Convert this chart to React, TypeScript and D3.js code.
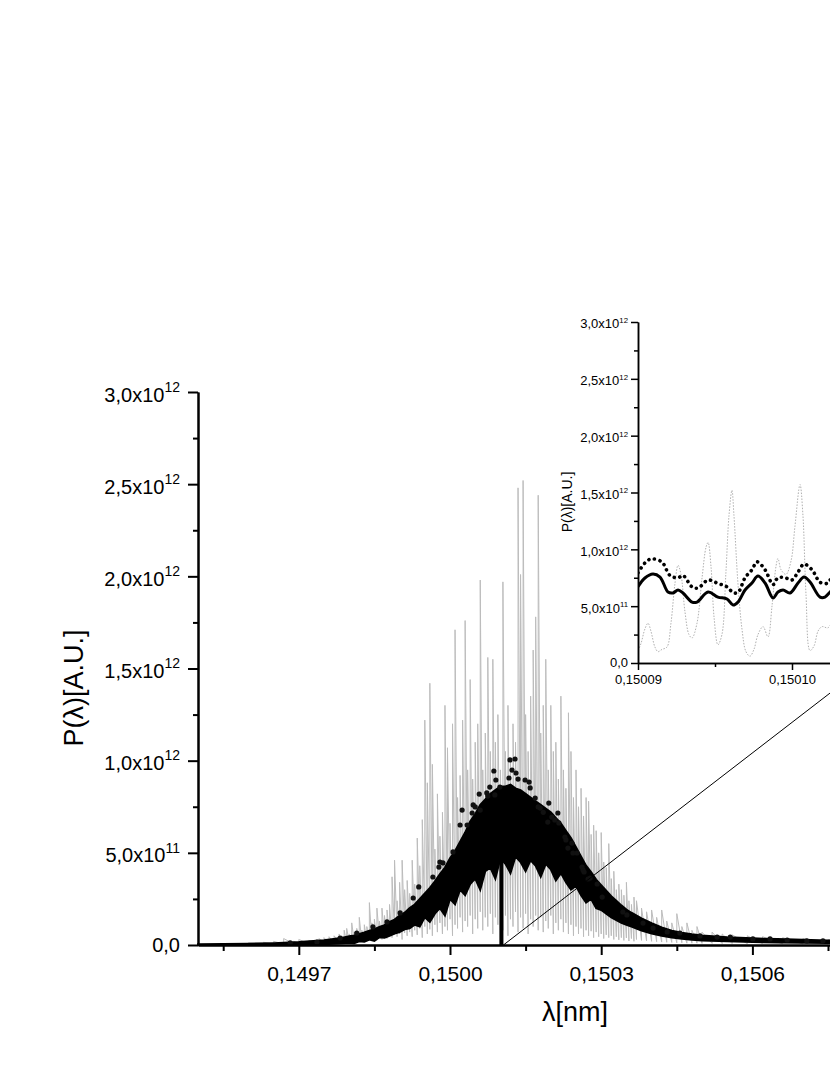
import React, { useEffect, useRef } from "react";
import * as d3 from "d3";

const UNIT = 1e12; // power values below are in units of 10^12

// ---- main chart axes ----
const yTickValues = [0, 0.5, 1, 1.5, 2, 2.5, 3];
const yTickMantissa = ["0,0", "5,0", "1,0", "1,5", "2,0", "2,5", "3,0"];
const yTickExponent = ["", "11", "12", "12", "12", "12", "12"];
const yMinorTicks = [0.25, 0.75, 1.25, 1.75, 2.25, 2.75];
const xTickValues = [0.1497, 0.15, 0.1503, 0.1506];
const xTickLabels = ["0,1497", "0,1500", "0,1503", "0,1506"];
const xMinorTicks = [0.14955, 0.14985, 0.15015, 0.15045, 0.15075];

// ---- main chart: grey spiky spectrum (each spike: trough -> peak) ----
const greyLambda = [
  0.1496, 0.14963, 0.14965, 0.14967, 0.14969, 0.1497, 0.14972, 0.14974, 0.14975, 0.14976,
  0.14977, 0.14978, 0.149785, 0.14979, 0.149795, 0.1498, 0.149805, 0.14981, 0.149815, 0.14982,
  0.149825, 0.14983, 0.149835, 0.14984, 0.149845, 0.14985, 0.149855, 0.14986, 0.149865, 0.14987,
  0.149875, 0.14988, 0.149885, 0.14989, 0.149895, 0.1499, 0.149905, 0.14991, 0.149915, 0.14992,
  0.149925, 0.14993, 0.149935, 0.14994, 0.149945, 0.14995, 0.149955, 0.14996, 0.149965, 0.14997,
  0.149975, 0.14998, 0.149985, 0.14999, 0.149995, 0.15, 0.150005, 0.15001, 0.150015, 0.15002,
  0.150025, 0.15003, 0.150035, 0.15004, 0.150045, 0.15005, 0.150055, 0.15006, 0.150065, 0.15007,
  0.150075, 0.15008, 0.150085, 0.15009, 0.150095, 0.1501, 0.150105, 0.15011, 0.150115, 0.15012,
  0.150125, 0.15013, 0.150135, 0.15014, 0.150145, 0.15015, 0.150155, 0.15016, 0.150165, 0.15017,
  0.150175, 0.15018, 0.150185, 0.15019, 0.150195, 0.1502, 0.150205, 0.15021, 0.150215, 0.15022,
  0.150225, 0.15023, 0.150235, 0.15024, 0.150245, 0.15025, 0.150255, 0.15026, 0.150265, 0.15027,
  0.150275, 0.15028, 0.150285, 0.15029, 0.150295, 0.1503, 0.150305, 0.15031, 0.150315, 0.15032,
  0.150325, 0.15033, 0.150335, 0.15034, 0.150345, 0.15035, 0.150355, 0.15036, 0.150365, 0.15037,
  0.15038, 0.15039, 0.1504, 0.15041, 0.15042, 0.15043, 0.15044, 0.15045, 0.15046, 0.15047,
  0.15048, 0.15049, 0.1505, 0.15052, 0.15054, 0.15056, 0.15059, 0.15062, 0.15066, 0.1507,
  0.15075, 0.1508,
];
const greyHigh = [
  0.012, 0.015, 0.02, 0.035, 0.02, 0.03, 0.025, 0.035, 0.04, 0.045,
  0.05, 0.06, 0.05, 0.08, 0.09, 0.06, 0.12, 0.07, 0.09, 0.15,
  0.08, 0.11, 0.1, 0.23, 0.12, 0.14, 0.2, 0.13, 0.2, 0.16,
  0.19, 0.22, 0.37, 0.46, 0.24, 0.34, 0.46, 0.3, 0.35, 0.28,
  0.46, 0.33, 0.58, 0.43, 0.68, 1.22, 0.88, 1.42, 0.98, 0.52,
  0.82, 0.59, 0.72, 1.3, 1.07, 0.66, 1.2, 1.71, 0.8, 0.92,
  1.22, 1.76, 0.95, 1.44, 0.9, 1.1, 1.2, 1.98, 0.95, 1.15,
  1.56, 1.05, 1.55, 1.1, 1.25, 0.95, 1.97, 1.05, 1.3, 1.0,
  1.2, 1.1, 2.48, 2.01, 2.52, 1.25, 1.05, 1.35, 1.6, 1.78,
  2.44, 1.15, 1.3, 1.55, 0.95, 1.3, 1.05, 1.1, 0.9, 1.35,
  0.95, 0.85, 1.26, 1.05, 0.8, 0.95, 0.75, 0.85, 0.7, 0.8,
  0.78, 0.6, 0.65, 0.62, 0.5, 0.61, 0.45, 0.42, 0.55, 0.36,
  0.4, 0.3, 0.33, 0.3, 0.27, 0.34, 0.24, 0.22, 0.26, 0.24,
  0.2, 0.18, 0.19, 0.15, 0.19, 0.13, 0.12, 0.17, 0.1, 0.12,
  0.08, 0.1, 0.07, 0.07, 0.06, 0.055, 0.05, 0.045, 0.04, 0.035,
  0.03, 0.03,
];
const greyLow = [
  0.002, 0.003, 0.004, 0.005, 0.006, 0.006, 0.008, 0.01, 0.01, 0.012,
  0.012, 0.014, 0.01, 0.016, 0.012, 0.018, 0.014, 0.02, 0.016, 0.022,
  0.018, 0.025, 0.02, 0.03, 0.022, 0.035, 0.025, 0.04, 0.03, 0.045,
  0.035, 0.05, 0.04, 0.055, 0.045, 0.06, 0.03, 0.065, 0.05, 0.07,
  0.045, 0.08, 0.055, 0.09, 0.04, 0.1, 0.06, 0.085, 0.05, 0.11,
  0.07, 0.12, 0.06, 0.1, 0.08, 0.14, 0.05, 0.11, 0.09, 0.15,
  0.07, 0.13, 0.1, 0.16, 0.06, 0.14, 0.09, 0.18, 0.08, 0.15,
  0.1, 0.17, 0.06, 0.15, 0.11, 0.19, 0.08, 0.16, 0.05, 0.14,
  0.1, 0.18, 0.07, 0.15, 0.09, 0.17, 0.06, 0.14, 0.1, 0.16,
  0.08, 0.15, 0.07, 0.13, 0.09, 0.16, 0.06, 0.12, 0.08, 0.14,
  0.07, 0.12, 0.06, 0.11, 0.05, 0.1, 0.06, 0.09, 0.045, 0.08,
  0.05, 0.075, 0.04, 0.07, 0.045, 0.06, 0.035, 0.055, 0.04, 0.05,
  0.03, 0.045, 0.028, 0.04, 0.025, 0.038, 0.022, 0.035, 0.02, 0.03,
  0.025, 0.022, 0.02, 0.018, 0.016, 0.015, 0.014, 0.012, 0.012, 0.01,
  0.01, 0.01, 0.009, 0.009, 0.008, 0.008, 0.007, 0.007, 0.006, 0.006,
  0.006, 0.005,
];

// ---- main chart: black band (envelope of the dense black trace) ----
const bandLambda = [
  0.1495, 0.14955, 0.1496, 0.14965, 0.1497, 0.14975, 0.14978, 0.1498, 0.14981, 0.14982,
  0.14983, 0.14984, 0.14985, 0.14986, 0.14987, 0.14988, 0.14989, 0.1499, 0.14991, 0.14992,
  0.14993, 0.14994, 0.14995, 0.14996, 0.14997, 0.14998, 0.14999, 0.15, 0.15001, 0.15002,
  0.15003, 0.15004, 0.15005, 0.15006, 0.15007, 0.15008, 0.15009, 0.1501, 0.15011, 0.15012,
  0.15013, 0.15014, 0.15015, 0.15016, 0.15017, 0.15018, 0.15019, 0.1502, 0.15021, 0.15022,
  0.15023, 0.15024, 0.15025, 0.15026, 0.15027, 0.15028, 0.15029, 0.1503, 0.15031, 0.15032,
  0.15033, 0.15034, 0.15035, 0.15036, 0.15038, 0.1504, 0.15042, 0.15044, 0.15046, 0.15048,
  0.1505, 0.15055, 0.1506, 0.15065, 0.1507, 0.15075, 0.1508,
];
const bandUpper = [
  0.004, 0.005, 0.007, 0.01, 0.016, 0.026, 0.036, 0.048, 0.052, 0.06,
  0.068, 0.078, 0.086, 0.098, 0.108, 0.125, 0.138, 0.16, 0.175, 0.2,
  0.22, 0.25, 0.28, 0.31, 0.345, 0.385, 0.42, 0.47, 0.51, 0.56,
  0.61, 0.67, 0.71, 0.76, 0.79, 0.82, 0.84, 0.86, 0.86, 0.87,
  0.85, 0.84, 0.82, 0.8, 0.78, 0.76, 0.74, 0.72, 0.69, 0.66,
  0.62, 0.58, 0.53, 0.48, 0.43, 0.395, 0.355, 0.325, 0.295, 0.265,
  0.24, 0.215, 0.192, 0.175, 0.145, 0.118, 0.095, 0.078, 0.066, 0.058,
  0.052, 0.042, 0.036, 0.032, 0.028, 0.025, 0.024,
];
const bandLower = [
  0, 0, 0.001, 0.001, 0.002, 0.004, 0.008, 0.012, 0.01, 0.02,
  0.018, 0.03, 0.022, 0.042, 0.04, 0.05, 0.062, 0.07, 0.085, 0.09,
  0.11, 0.1, 0.15, 0.125, 0.17, 0.2, 0.16, 0.25, 0.22, 0.3,
  0.27, 0.33, 0.36, 0.3, 0.4, 0.42, 0.36, 0.47, 0.44, 0.39,
  0.48, 0.45, 0.4, 0.46, 0.43, 0.37, 0.44, 0.41, 0.35, 0.39,
  0.34, 0.3, 0.32, 0.27, 0.23, 0.25, 0.2, 0.19, 0.17, 0.15,
  0.135, 0.12, 0.11, 0.1, 0.078, 0.062, 0.05, 0.04, 0.034, 0.028,
  0.024, 0.02, 0.016, 0.014, 0.012, 0.011, 0.01,
];

// ---- main chart: black dots ----
const dotLambda = [
  0.149683, 0.149736, 0.149782, 0.149815, 0.149847, 0.149875, 0.149901, 0.149927, 0.149938, 0.149966,
  0.149978, 0.14998, 0.149986, 0.150006, 0.15002, 0.150024, 0.150034, 0.150044, 0.150046, 0.15005,
  0.150058, 0.15006, 0.150073, 0.150075, 0.150079, 0.150087, 0.150089, 0.150091, 0.150099, 0.150117,
  0.150119, 0.150123, 0.150129, 0.150131, 0.150135, 0.150149, 0.150157, 0.150159, 0.150169, 0.150175,
  0.150179, 0.150185, 0.150194, 0.150196, 0.150202, 0.150208, 0.150214, 0.150216, 0.150228, 0.15023,
  0.150234, 0.150242, 0.150244, 0.150252, 0.150262, 0.150264, 0.150266, 0.150274, 0.150278, 0.150292,
  0.150302, 0.150343, 0.150351, 0.150383, 0.150403, 0.150431, 0.150456, 0.150496, 0.15053, 0.150556,
  0.150601, 0.150635, 0.150669, 0.150708, 0.15074,
];
const dotPower = [
  0.011, 0.016, 0.038, 0.065, 0.098, 0.125, 0.174, 0.255, 0.315, 0.369,
  0.423, 0.45, 0.445, 0.505, 0.651, 0.732, 0.651, 0.716, 0.76, 0.749,
  0.819, 0.732, 0.825, 0.808, 0.857, 0.944, 0.814, 0.895, 0.857, 0.906,
  1.004, 0.949, 1.009, 0.933, 0.9, 0.895, 0.884, 0.852, 0.797, 0.749,
  0.743, 0.72, 0.667, 0.77, 0.694, 0.678, 0.716, 0.662, 0.586, 0.57,
  0.526, 0.553, 0.499, 0.499, 0.423, 0.407, 0.396, 0.358, 0.363, 0.331,
  0.26, 0.179, 0.163, 0.119, 0.092, 0.071, 0.065, 0.049, 0.043, 0.043,
  0.033, 0.033, 0.027, 0.022, 0.022,
];

// zoomed region marker and inset
const zoomLambda = [0.150098, 0.150106];
const zoomTop = 0.55;
const insetXTicks = [0.15009, 0.1501];
const insetXLabels = ["0,15009", "0,15010"];
const insetXMinor = [0.150095, 0.150105];

// ---- inset: solid black line ----
const insetSolidLambda = [
  0.15009, 0.15009045, 0.15009097, 0.15009143, 0.15009195, 0.15009227, 0.1500926, 0.15009292, 0.15009351, 0.15009383,
  0.15009455, 0.15009519, 0.15009578, 0.15009617, 0.15009649, 0.15009695, 0.1500974, 0.15009779, 0.15009825, 0.15009877,
  0.15009909, 0.15009942, 0.15009987, 0.15010039, 0.15010078, 0.15010117, 0.15010182, 0.15010214, 0.15010247, 0.15010312,
  0.1501041,
];
const insetSolidPower = [
  0.671, 0.748, 0.783, 0.756, 0.624, 0.616, 0.642, 0.616, 0.536, 0.536,
  0.624, 0.58, 0.563, 0.51, 0.536, 0.642, 0.704, 0.765, 0.704, 0.572,
  0.624, 0.642, 0.616, 0.704, 0.756, 0.712, 0.58, 0.58, 0.624, 0.7,
  0.72,
];

// ---- inset: black dotted line ----
const insetDotLambda = [
  0.15009, 0.15009045, 0.15009084, 0.15009154, 0.15009208, 0.1500926, 0.15009292, 0.15009351, 0.1500939, 0.15009455,
  0.15009519, 0.15009578, 0.15009617, 0.15009649, 0.15009695, 0.1500974, 0.15009773, 0.15009825, 0.15009877, 0.15009909,
  0.15009955, 0.1501, 0.15010039, 0.15010078, 0.1501013, 0.15010182, 0.15010227, 0.15010247, 0.1501031,
];
const insetDotPower = [
  0.794, 0.88, 0.915, 0.89, 0.77, 0.75, 0.77, 0.67, 0.66, 0.73,
  0.7, 0.67, 0.62, 0.62, 0.75, 0.82, 0.89, 0.82, 0.69, 0.75,
  0.75, 0.73, 0.8, 0.87, 0.82, 0.71, 0.7, 0.73, 0.8,
];

// ---- inset: grey dotted line ----
const insetGreyLambda = [
  0.15009, 0.15009019, 0.15009045, 0.15009065, 0.15009084, 0.1500911, 0.1500913, 0.15009156, 0.15009188, 0.15009214,
  0.1500924, 0.1500926, 0.15009279, 0.15009305, 0.15009331, 0.15009351, 0.15009383, 0.15009416, 0.15009442, 0.15009455,
  0.15009474, 0.15009494, 0.15009519, 0.15009545, 0.15009571, 0.15009591, 0.1500961, 0.15009623, 0.15009649, 0.15009675,
  0.15009701, 0.15009727, 0.15009753, 0.15009779, 0.15009812, 0.15009844, 0.1500987, 0.15009896, 0.15009909, 0.15009929,
  0.15009961, 0.15009994, 0.15010019, 0.15010052, 0.15010071, 0.15010091, 0.15010117, 0.15010143, 0.15010169, 0.15010195,
  0.15010234, 0.15010273,
];
const insetGreyPower = [
  0.11, 0.17, 0.3, 0.35, 0.28, 0.14, 0.1, 0.12, 0.14, 0.35,
  0.7, 0.86, 0.78, 0.45, 0.25, 0.22, 0.35, 0.75, 1.02, 1.06,
  0.85, 0.4, 0.16, 0.25, 0.8, 1.3, 1.52, 1.3, 0.7, 0.3,
  0.1, 0.06, 0.12, 0.25, 0.32, 0.23, 0.5, 0.85, 0.92, 0.82,
  0.78, 0.9, 1.2, 1.57, 1.3, 0.6, 0.11, 0.15, 0.28, 0.32,
  0.31, 0.4,
];

const FONT = "'Liberation Sans', Arial, Helvetica, sans-serif";

function styleAxis(g, width) {
  g.select(".domain").attr("stroke", "#000").attr("stroke-width", width);
  g.selectAll(".tick line").attr("stroke", "#000").attr("stroke-width", width);
}

function supLabels(g, mantissa, exponent, supSize, supShift) {
  g.selectAll(".tick text").each(function (_d, i) {
    const t = d3.select(this);
    t.text(null);
    t.attr("dy", exponent[i] ? "0.45em" : "0.3em");
    t.append("tspan").text(mantissa[i] + (exponent[i] ? "x10" : ""));
    if (exponent[i]) {
      t.append("tspan").attr("dy", supShift).attr("font-size", supSize).text(exponent[i]);
    }
  });
}

const App = () => {
  const svgRef = useRef(null);

  useEffect(() => {
    const svg = d3.select(svgRef.current);
    svg.selectAll("*").remove();

    // main scales
    const x = d3.scaleLinear().domain([0.1495, 0.1508]).range([198, 853.2]);
    const y = d3.scaleLinear().domain([0, 3 * UNIT]).range([945, 392]);

    // grey spectrum
    const greyPts = greyLambda.flatMap((l, i) => [[l, greyLow[i]], [l, greyHigh[i]]]);
    svg
      .append("path")
      .attr("d", d3.line().x((d) => x(d[0])).y((d) => y(d[1] * UNIT))(greyPts))
      .attr("fill", "none")
      .attr("stroke", "#bcbcbc")
      .attr("stroke-width", 1);

    // black band
    const band = d3
      .area()
      .x((i) => x(bandLambda[i]))
      .y0((i) => y(bandLower[i] * UNIT))
      .y1((i) => y(bandUpper[i] * UNIT));
    svg
      .append("path")
      .attr("d", band(d3.range(bandLambda.length)))
      .attr("fill", "#000")
      .attr("stroke", "#000")
      .attr("stroke-width", 2);

    // dots
    svg
      .append("g")
      .selectAll("circle")
      .data(dotLambda)
      .enter()
      .append("circle")
      .attr("cx", (d) => x(d))
      .attr("cy", (_d, i) => y(dotPower[i] * UNIT))
      .attr("r", 2.6)
      .attr("fill", "#111");

    // inset scales
    const xi = d3.scaleLinear().domain([0.15009, 0.150105]).range([638, 869]);
    const yi = d3.scaleLinear().domain([0, 3 * UNIT]).range([663, 322]);

    // zoom marker and connector
    svg
      .append("rect")
      .attr("x", x(zoomLambda[0]))
      .attr("width", x(zoomLambda[1]) - x(zoomLambda[0]))
      .attr("y", y(zoomTop * UNIT))
      .attr("height", y(0) - y(zoomTop * UNIT))
      .attr("fill", "#000");
    svg
      .append("line")
      .attr("x1", x(zoomLambda[1]))
      .attr("y1", y(0))
      .attr("x2", xi.range()[1])
      .attr("y2", yi(0))
      .attr("stroke", "#000")
      .attr("stroke-width", 1);

    // main axes
    const gyMinor = svg.append("g").attr("transform", "translate(198,0)");
    gyMinor.call(d3.axisLeft(y).tickValues(yMinorTicks.map((v) => v * UNIT)).tickSize(5).tickSizeOuter(0).tickFormat(() => ""));
    styleAxis(gyMinor, 2);
    const gy = svg.append("g").attr("transform", "translate(198,0)");
    gy.call(d3.axisLeft(y).tickValues(yTickValues.map((v) => v * UNIT)).tickSize(10).tickSizeOuter(0).tickPadding(8));
    styleAxis(gy, 2);
    gy.selectAll(".tick text").attr("font-size", 20).attr("font-family", FONT);
    supLabels(gy, yTickMantissa, yTickExponent, "0.7em", "-0.7em");

    const gxMinor = svg.append("g").attr("transform", "translate(0,945)");
    gxMinor.call(d3.axisBottom(x).tickValues(xMinorTicks).tickSize(6).tickSizeOuter(0).tickFormat(() => ""));
    styleAxis(gxMinor, 2);
    const gx = svg.append("g").attr("transform", "translate(0,945)");
    gx.call(d3.axisBottom(x).tickValues(xTickValues).tickSize(10).tickSizeOuter(0).tickPadding(11).tickFormat((_d, i) => xTickLabels[i]));
    styleAxis(gx, 2);
    gx.selectAll(".tick text").attr("font-size", 21).attr("font-family", FONT);

    svg
      .append("text")
      .attr("transform", "translate(83,688) rotate(-90)")
      .attr("text-anchor", "middle")
      .attr("font-family", FONT)
      .attr("font-size", 27)
      .text("P(λ)[A.U.]");
    svg
      .append("text")
      .attr("x", 575)
      .attr("y", 1021)
      .attr("text-anchor", "middle")
      .attr("font-family", FONT)
      .attr("font-size", 27)
      .text("λ[nm]");

    // inset
    svg
      .append("clipPath")
      .attr("id", "inset-clip")
      .append("rect")
      .attr("x", 638)
      .attr("y", 300)
      .attr("width", 231)
      .attr("height", 363);
    const gi = svg.append("g").attr("clip-path", "url(#inset-clip)");
    const lineI = (lam, pw) =>
      d3
        .line()
        .x((i) => xi(lam[i]))
        .y((i) => yi(pw[i] * UNIT))
        .curve(d3.curveCatmullRom)(d3.range(lam.length));

    gi.append("path")
      .attr("d", lineI(insetGreyLambda, insetGreyPower))
      .attr("fill", "none")
      .attr("stroke", "#b0b0b0")
      .attr("stroke-width", 1)
      .attr("stroke-dasharray", "1.5,1.5");
    gi.append("path")
      .attr("d", lineI(insetDotLambda, insetDotPower))
      .attr("fill", "none")
      .attr("stroke", "#000")
      .attr("stroke-width", 3.6)
      .attr("stroke-linecap", "round")
      .attr("stroke-dasharray", "0.1,5.6");
    gi.append("path")
      .attr("d", lineI(insetSolidLambda, insetSolidPower))
      .attr("fill", "none")
      .attr("stroke", "#000")
      .attr("stroke-width", 3);

    const giyMinor = svg.append("g").attr("transform", "translate(638,0)");
    giyMinor.call(d3.axisLeft(yi).tickValues(yMinorTicks.map((v) => v * UNIT)).tickSize(4).tickSizeOuter(0).tickFormat(() => ""));
    styleAxis(giyMinor, 1.5);
    const giy = svg.append("g").attr("transform", "translate(638,0)");
    giy.call(d3.axisLeft(yi).tickValues(yTickValues.map((v) => v * UNIT)).tickSize(7).tickSizeOuter(0).tickPadding(3));
    styleAxis(giy, 1.5);
    giy.selectAll(".tick text").attr("font-size", 13).attr("font-family", FONT);
    supLabels(giy, yTickMantissa, yTickExponent, "0.6em", "-0.7em");

    const gixMinor = svg.append("g").attr("transform", "translate(0,663)");
    gixMinor.call(d3.axisBottom(xi).tickValues(insetXMinor).tickSize(4).tickSizeOuter(0).tickFormat(() => ""));
    styleAxis(gixMinor, 1.5);
    const gix = svg.append("g").attr("transform", "translate(0,663)");
    gix.call(d3.axisBottom(xi).tickValues(insetXTicks).tickSize(7).tickSizeOuter(0).tickPadding(5).tickFormat((_d, i) => insetXLabels[i]));
    styleAxis(gix, 1.5);
    gix.selectAll(".tick text").attr("font-size", 13).attr("font-family", FONT);

    svg
      .append("text")
      .attr("transform", "translate(572,502) rotate(-90)")
      .attr("text-anchor", "middle")
      .attr("font-family", FONT)
      .attr("font-size", 14)
      .text("P(λ)[A.U.]");
  }, []);

  return (
    <svg
      ref={svgRef}
      width={830}
      height={1075}
      style={{ position: "absolute", left: 0, top: 0, background: "#fff" }}
    />
  );
};

export default App;
